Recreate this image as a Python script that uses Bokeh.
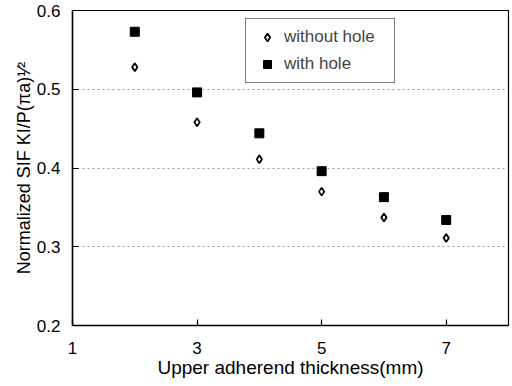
from bokeh.plotting import figure
from bokeh.models import ColumnDataSource, Legend, LegendItem, FixedTicker, Range1d
from bokeh.embed import file_html
from bokeh.resources import INLINE

thickness = [2, 3, 4, 5, 6, 7]
without_hole = [0.528, 0.458, 0.411, 0.370, 0.337, 0.311]
with_hole = [0.573, 0.496, 0.444, 0.396, 0.363, 0.334]
x_ticks = [1, 3, 5, 7]
y_ticks = [0.2, 0.3, 0.4, 0.5, 0.6]

p = figure(width=512, height=386, output_backend="svg", toolbar_location=None,
           x_range=Range1d(1, 8), y_range=Range1d(0.2, 0.6),
           min_border_left=72, min_border_right=4, min_border_top=10, min_border_bottom=61)

src = ColumnDataSource(dict(x=thickness, wo=without_hole, w=with_hole))
r1 = p.scatter("x", "wo", source=src, marker="diamond", size=8, fill_color="white",
               line_color="black", line_width=1.8)
r2 = p.scatter("x", "w", source=src, marker="square", size=9, fill_color="black",
               line_color="black")

p.xaxis.ticker = FixedTicker(ticks=x_ticks)
p.yaxis.ticker = FixedTicker(ticks=y_ticks)
p.xgrid.visible = False
p.ygrid.grid_line_color = "#999999"
p.ygrid.grid_line_dash = "2 3"
p.ygrid.grid_line_width = 1

for ax in (p.xaxis[0], p.yaxis[0]):
    ax.major_tick_in = 6
    ax.major_tick_out = 0
    ax.minor_tick_line_color = None
    ax.axis_line_width = 1.5
    ax.major_tick_line_width = 1.2
    ax.major_label_text_font = "Liberation Sans"
    ax.major_label_text_font_size = "17px"
    ax.major_label_text_color = "black"
    ax.axis_label_text_font = "Liberation Sans"
    ax.axis_label_text_font_style = "normal"
    ax.axis_label_text_color = "black"

p.xaxis.axis_label_text_font_size = "19px"
p.yaxis.axis_label_text_font_size = "18px"
p.yaxis.formatter.use_scientific = False
p.xaxis.axis_label = "Upper adherend thickness(mm)"
p.yaxis.axis_label = "Normalized SIF KI/P(\u03c0a)\u00b9\u2044\u00b2"
p.xaxis.major_label_standoff = 16
p.xaxis.axis_label_standoff = 0
p.yaxis.major_label_standoff = 12
p.yaxis.axis_label_standoff = 0

p.outline_line_color = "black"
p.outline_line_width = 1.2

legend = Legend(items=[LegendItem(label="without hole", renderers=[r1]),
                       LegendItem(label="with hole", renderers=[r2])],
                location=(173, 242))
legend.border_line_color = "black"
legend.border_line_width = 1
legend.label_text_font = "Liberation Sans"
legend.label_text_font_size = "17px"
legend.glyph_width = 26
legend.glyph_height = 20
legend.label_height = 20
legend.label_width = 102
legend.label_standoff = 4
legend.padding = 8
legend.spacing = 7
legend.margin = 0
legend.background_fill_alpha = 1
p.add_layout(legend, "center")

open("out.html", "w").write(file_html(p, INLINE))
